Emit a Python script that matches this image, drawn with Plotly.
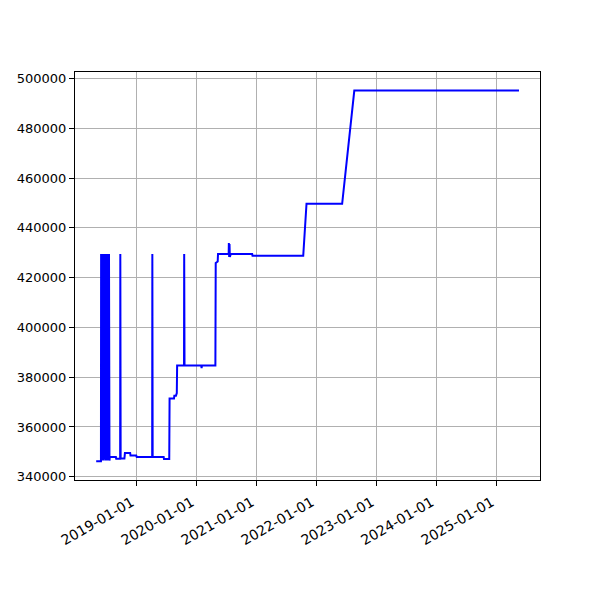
import plotly.graph_objects as go

dates = [
    "2018-04-29", "2018-05-28",
    "2018-05-29", "2018-06-01", "2018-06-03", "2018-06-06", "2018-06-09", "2018-06-12",
    "2018-06-15", "2018-06-18", "2018-06-22", "2018-06-25", "2018-06-28", "2018-07-01",
    "2018-07-04", "2018-07-07", "2018-07-10", "2018-07-13", "2018-07-16", "2018-07-19",
    "2018-07-21", "2018-08-27", "2018-08-29", "2018-09-22", "2018-09-23", "2018-09-25",
    "2018-10-18", "2018-10-21", "2018-11-22", "2018-11-24", "2018-12-29", "2019-01-01",
    "2019-04-05", "2019-04-06", "2019-04-08", "2019-06-14", "2019-06-16", "2019-07-18",
    "2019-07-20", "2019-08-16", "2019-08-18", "2019-08-28", "2019-08-30", "2019-09-02",
    "2019-09-04", "2019-10-16", "2019-10-17", "2019-10-19", "2020-01-29", "2020-01-31",
    "2020-02-02", "2020-04-24", "2020-04-26", "2020-05-08", "2020-05-10", "2020-07-14",
    "2020-07-15", "2020-07-17", "2020-07-19", "2020-07-21", "2020-07-27", "2020-12-04",
    "2020-12-06", "2021-10-11", "2021-10-31", "2022-06-05", "2022-08-18", "2025-05-17",
]
values = [
    346200, 346200,
    429500, 346500, 429500, 347000, 429500, 346500,
    429500, 347000, 429500, 346500, 429500, 347000,
    429500, 346500, 429500, 346500, 429500, 346500,
    347900, 347900, 347200, 347200, 429500, 347300,
    347300, 349500, 349500, 348500, 348500, 347900,
    347900, 429500, 347900, 347900, 347100, 347100,
    371400, 371400, 372600, 372600, 373600, 373600,
    384700, 384700, 429500, 384700, 384700, 383700,
    384700, 384700, 425900, 426500, 429500, 429500,
    433900, 428300, 433500, 428300, 429500, 429500,
    428800, 428800, 449700, 449700, 495200, 495200,
]

tick_dates = ["2019-01-01", "2020-01-01", "2021-01-01", "2022-01-01",
              "2023-01-01", "2024-01-01", "2025-01-01"]
tick_labels = tick_dates

fig = go.Figure()
fig.add_trace(go.Scatter(x=dates, y=values, mode="lines",
                         line=dict(color="#0000ff", width=2)))

axis_common = dict(
    showline=True, linecolor="black", linewidth=1.1, mirror=True,
    showgrid=True, gridcolor="#b0b0b0", gridwidth=1.1,
    ticks="outside", ticklen=5, tickwidth=1.1, tickcolor="black",
    zeroline=False, automargin=False,
)

fig.update_layout(
    width=600, height=600,
    margin=dict(l=67, r=68, t=64, b=128),
    paper_bgcolor="white", plot_bgcolor="white",
    showlegend=False,
    xaxis=dict(range=["2017-12-21", "2025-09-22"], tickvals=tick_dates,
               ticktext=tick_labels, tickangle=-30, ticklabelshift=-5,
               ticklabelstandoff=3,
               tickfont=dict(family="DejaVu Sans", size=14, color="black"),
               **axis_common),
    yaxis=dict(range=[338700, 502650], dtick=20000, tick0=340000,
               tickformat="d",
               tickfont=dict(family="DejaVu Sans", size=13, color="black"),
               **axis_common),
)

fig.write_html("out.html")
